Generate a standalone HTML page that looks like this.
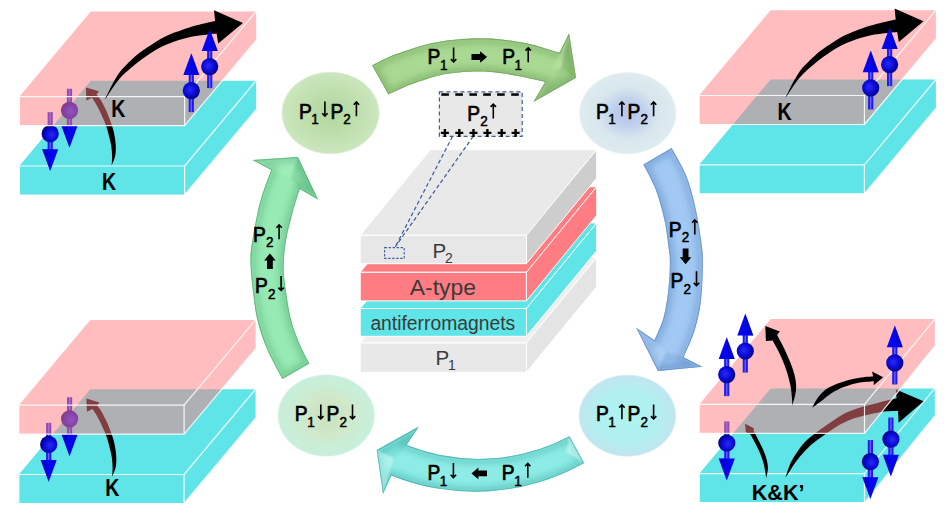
<!DOCTYPE html>
<html><head><meta charset="utf-8"><title>Diagram</title>
<style>html,body{margin:0;padding:0;background:#fff;}svg{display:block;}text{font-family:"Liberation Sans",sans-serif;}</style></head>
<body>
<svg width="944" height="521" viewBox="0 0 944 521"><defs>
<radialGradient id="ball" cx="0.42" cy="0.45" r="0.62"><stop offset="0" stop-color="#2a2af5"/><stop offset="0.55" stop-color="#0a0ad8"/><stop offset="1" stop-color="#00006e"/></radialGradient>
<g id="spinU"><rect x="-2.6" y="-17" width="5.2" height="38.5" fill="#1c1cf0"/><rect x="-0.7" y="-17" width="1.4" height="38.5" fill="#6a5ff4"/><polygon points="0,-37.4 8,-15.6 -8,-15.6" fill="#0505ee"/><polygon points="0,-37.4 8,-15.6 2.5,-15.6" fill="#0000b8" fill-opacity="0.45"/><circle r="8.6" fill="url(#ball)"/></g>
<g id="spinD"><use href="#spinU" transform="rotate(180)"/></g>
<radialGradient id="bTL" cx="0.5" cy="0.5" r="0.5"><stop offset="0" stop-color="#b2d69d" stop-opacity="1"/><stop offset="0.5" stop-color="#bedeac" stop-opacity="1"/><stop offset="0.96" stop-color="#cbe6bd" stop-opacity="1"/><stop offset="1" stop-color="#cbe6bd" stop-opacity="0"/></radialGradient>
<radialGradient id="bTR" cx="0.5" cy="0.5" r="0.5"><stop offset="0" stop-color="#b7c6ec" stop-opacity="1"/><stop offset="0.3" stop-color="#c0cfec" stop-opacity="1"/><stop offset="0.62" stop-color="#d8e6ee" stop-opacity="1"/><stop offset="0.96" stop-color="#deecf0" stop-opacity="1"/><stop offset="1" stop-color="#deecf0" stop-opacity="0"/></radialGradient>
<radialGradient id="bBR" cx="0.5" cy="0.5" r="0.5"><stop offset="0" stop-color="#aef3f0" stop-opacity="1"/><stop offset="0.6" stop-color="#b1f0f0" stop-opacity="1"/><stop offset="0.96" stop-color="#c0e6f0" stop-opacity="1"/><stop offset="1" stop-color="#c0e6f0" stop-opacity="0"/></radialGradient>
<radialGradient id="bBL" cx="0.5" cy="0.5" r="0.5"><stop offset="0" stop-color="#cae0bc" stop-opacity="1"/><stop offset="0.45" stop-color="#d0e8c9" stop-opacity="1"/><stop offset="0.8" stop-color="#c9eed8" stop-opacity="1"/><stop offset="0.96" stop-color="#c8efdc" stop-opacity="1"/><stop offset="1" stop-color="#c8efdc" stop-opacity="0"/></radialGradient>
<filter id="blur2" x="-20%" y="-20%" width="140%" height="140%"><feGaussianBlur stdDeviation="2.2"/></filter>
<filter id="blur3" x="-20%" y="-20%" width="140%" height="140%"><feGaussianBlur stdDeviation="0.9"/></filter>
<filter id="blur4" x="-20%" y="-20%" width="140%" height="140%"><feGaussianBlur stdDeviation="3.2"/></filter>
<filter id="blur1" x="-20%" y="-20%" width="140%" height="140%"><feGaussianBlur stdDeviation="0.45"/></filter>
</defs>
<polygon points="19.3,166 90.8,80.7 256.1,80.7 256.1,109.7 184.6,195 19.3,195" fill="#5fe4e8"/>
<g fill="none" stroke="#fff" stroke-width="1.2" stroke-opacity="0.9"><polygon points="19.3,166 184.6,166 184.6,195 19.3,195"/><polyline points="184.6,166 256.1,80.7"/><polyline points="184.6,195 256.1,109.7"/></g>
<path d="M111.6,165.6 C112.2,164.1 114.4,159.5 115.1,156.3 C115.8,153.1 115.9,149.6 115.8,146.2 C115.7,142.8 115.2,139.4 114.6,136 C114,132.6 113.4,129.8 112.1,125.9 C110.8,122 108.8,116.6 107,112.4 C105.2,108.2 102.8,103.6 101.1,100.6 C99.4,97.6 97.3,95.4 96.6,94.4 L98.9,91.3 L85.9,87.4 L86.4,100.6 L92,97.8 C92.7,98.8 94.5,101.3 96,104 C97.5,106.7 99.4,110.3 101.1,114 C102.8,117.7 104.9,122.2 106.2,125.9 C107.5,129.6 108.2,132.6 109,136 C109.8,139.4 110.8,142.8 111.3,146.2 C111.8,149.6 112,153.1 112.1,156.3 C112.1,159.5 111.7,164.1 111.6,165.6 Z" fill="#000"/>
<use href="#spinD" x="50.2" y="133.7"/>
<use href="#spinD" x="69.5" y="110.3"/>
<polygon points="19.3,96.7 90.8,11.4 256.1,11.4 256.1,40.4 184.6,125.7 19.3,125.7" fill="#ff7c80" fill-opacity="0.5"/>
<g fill="none" stroke="#fff" stroke-width="1.2" stroke-opacity="0.88"><polygon points="19.3,96.7 184.6,96.7 184.6,125.7 19.3,125.7"/><polyline points="184.6,96.7 256.1,11.4"/><polyline points="184.6,125.7 256.1,40.4"/></g>
<path d="M104.6,99.9 C105.2,98.6 107,95.1 108.4,92.3 C109.8,89.5 111.2,86.4 112.9,83.3 C114.6,80.2 116.9,76.3 118.7,73.6 C120.5,70.9 121.3,70 124,67.2 C126.7,64.4 131.7,59.5 135,56.6 C138.3,53.7 141.1,51.7 143.8,49.8 C146.5,47.9 148.4,46.7 151,45 C153.6,43.3 156.7,41.3 159.2,39.8 C161.7,38.3 163.4,37.4 166,36.2 C168.6,35 170.6,34.1 174.5,32.6 C178.4,31.1 183.7,29.1 189.3,27.4 C194.9,25.7 203.7,23.7 208,22.6 C212.3,21.6 213.9,21.4 215.1,21.1 L214,10.3 L242.9,22.9 L218.2,43.6 L216.6,33.6 C215.2,33.8 212.6,33.9 208,34.5 C203.4,35.1 194.9,36 189.3,37.2 C183.7,38.4 179.5,39.7 174.5,41.5 C169.5,43.3 163.6,45.8 159.2,48 C154.8,50.2 151.4,52.7 148,54.9 C144.6,57.1 141.6,59.3 138.9,61.4 C136.2,63.5 133.8,65.5 131.6,67.4 C129.4,69.3 127.8,70.5 125.6,72.6 C123.4,74.7 121,77 118.7,79.8 C116.4,82.6 113.7,86.5 111.8,89.2 C109.9,91.9 108.6,94.2 107.4,96 C106.2,97.8 105.1,99.2 104.6,99.9 Z" fill="#000"/>
<use href="#spinU" x="209.7" y="66.6"/>
<use href="#spinU" x="191.3" y="90.6"/>
<text transform="translate(111.2,117) scale(0.85,1)" font-family="Liberation Sans, sans-serif" font-weight="bold" font-size="23.0" fill="#000">K</text>
<text transform="translate(102.1,189.7) scale(0.85,1)" font-family="Liberation Sans, sans-serif" font-weight="bold" font-size="23.0" fill="#000">K</text>
<polygon points="18.8,474.5 90.3,389.2 255.6,389.2 255.6,418.2 184.1,503.5 18.8,503.5" fill="#5fe4e8"/>
<g fill="none" stroke="#fff" stroke-width="1.2" stroke-opacity="0.9"><polygon points="18.8,474.5 184.1,474.5 184.1,503.5 18.8,503.5"/><polyline points="184.1,474.5 255.6,389.2"/><polyline points="184.1,503.5 255.6,418.2"/></g>
<path d="M112.1,476.7 C112.7,475.2 114.9,470.6 115.6,467.4 C116.3,464.2 116.4,460.7 116.3,457.3 C116.2,453.9 115.7,450.5 115.1,447.1 C114.5,443.7 113.9,440.9 112.6,437 C111.3,433.1 109.3,427.7 107.5,423.5 C105.7,419.3 103.3,414.7 101.6,411.7 C99.9,408.7 97.8,406.5 97.1,405.5 L99.4,402.4 L86.4,398.5 L86.9,411.7 L92.5,408.9 C93.2,409.9 95,412.4 96.5,415.1 C98,417.8 99.9,421.5 101.6,425.1 C103.3,428.8 105.4,433.3 106.7,437 C108,440.7 108.7,443.7 109.5,447.1 C110.3,450.5 111.3,453.9 111.8,457.3 C112.3,460.7 112.5,464.2 112.6,467.4 C112.6,470.6 112.2,475.2 112.1,476.7 Z" fill="#000"/>
<use href="#spinD" x="48.7" y="444.4"/>
<use href="#spinD" x="69.6" y="418.8"/>
<polygon points="18.8,405.2 90.3,319.9 255.6,319.9 255.6,348.9 184.1,434.2 18.8,434.2" fill="#ff7c80" fill-opacity="0.5"/>
<g fill="none" stroke="#fff" stroke-width="1.2" stroke-opacity="0.88"><polygon points="18.8,405.2 184.1,405.2 184.1,434.2 18.8,434.2"/><polyline points="184.1,405.2 255.6,319.9"/><polyline points="184.1,434.2 255.6,348.9"/></g>
<text transform="translate(105.2,496.2) scale(0.85,1)" font-family="Liberation Sans, sans-serif" font-weight="bold" font-size="23.0" fill="#000">K</text>
<polygon points="699.1,164.8 770.6,79.5 935.9,79.5 935.9,108.5 864.4,193.8 699.1,193.8" fill="#5fe4e8"/>
<g fill="none" stroke="#fff" stroke-width="1.2" stroke-opacity="0.9"><polygon points="699.1,164.8 864.4,164.8 864.4,193.8 699.1,193.8"/><polyline points="864.4,164.8 935.9,79.5"/><polyline points="864.4,193.8 935.9,108.5"/></g>
<polygon points="699.1,95.5 770.6,10.2 935.9,10.2 935.9,39.2 864.4,124.5 699.1,124.5" fill="#ff7c80" fill-opacity="0.5"/>
<g fill="none" stroke="#fff" stroke-width="1.2" stroke-opacity="0.88"><polygon points="699.1,95.5 864.4,95.5 864.4,124.5 699.1,124.5"/><polyline points="864.4,95.5 935.9,10.2"/><polyline points="864.4,124.5 935.9,39.2"/></g>
<path d="M785.2,98.2 C785.8,96.9 787.6,93.4 789,90.6 C790.4,87.8 791.8,84.7 793.5,81.6 C795.2,78.5 797.5,74.6 799.3,71.9 C801.2,69.2 801.9,68.3 804.6,65.5 C807.3,62.7 812.3,57.8 815.6,54.9 C818.9,52 821.7,50 824.4,48.1 C827.1,46.2 829,45 831.6,43.3 C834.2,41.6 837.3,39.6 839.8,38.1 C842.3,36.6 844,35.7 846.6,34.5 C849.2,33.3 851.2,32.4 855.1,30.9 C859,29.4 864.3,27.4 869.9,25.7 C875.5,24 884.3,22 888.6,20.9 C892.9,19.9 894.5,19.7 895.7,19.4 L894.6,8.6 L923.5,21.2 L898.8,41.9 L897.2,31.9 C895.8,32.1 893.1,32.2 888.6,32.8 C884.1,33.4 875.5,34.3 869.9,35.5 C864.3,36.7 860.1,38 855.1,39.8 C850.1,41.6 844.2,44.1 839.8,46.3 C835.4,48.5 832,51 828.6,53.2 C825.2,55.4 822.2,57.6 819.5,59.7 C816.8,61.8 814.4,63.8 812.2,65.7 C810,67.6 808.4,68.8 806.2,70.9 C804.1,73 801.6,75.3 799.3,78.1 C797,80.9 794.3,84.8 792.4,87.5 C790.5,90.2 789.2,92.5 788,94.3 C786.8,96.1 785.7,97.5 785.2,98.2 Z" fill="#000"/>
<use href="#spinU" x="889.6" y="64.6"/>
<use href="#spinU" x="870.7" y="87.9"/>
<text transform="translate(777.4,119.5) scale(0.85,1)" font-family="Liberation Sans, sans-serif" font-weight="bold" font-size="23.0" fill="#000">K</text>
<polygon points="699.2,473.7 770.7,388.4 934.8,388.4 934.8,415.9 864.5,502.7 699.2,502.7" fill="#5fe4e8"/>
<g fill="none" stroke="#fff" stroke-width="1.2" stroke-opacity="0.9"><polygon points="699.2,473.7 864.5,473.7 864.5,502.7 699.2,502.7"/><polyline points="864.5,473.7 934.8,388.4"/><polyline points="864.5,502.7 934.8,415.9"/></g>
<path d="M766.2,478.2 C766.5,476.6 767.8,471.9 767.9,468.8 C768,465.7 767.5,462.8 766.6,459.4 C765.7,456 764.2,452.2 762.6,448.6 C761,445 758.7,440.7 757.2,437.8 C755.7,434.9 754.4,432.2 753.8,431.1 L753.8,428.2 L745.1,423.7 L745.8,432.2 L750.5,434.5 C751,435.5 752.3,437.7 753.8,440.5 C755.2,443.3 757.6,447.7 759.2,451.3 C760.8,454.9 762.2,458.6 763.2,462 C764.2,465.4 764.7,468.8 765.2,471.5 C765.7,474.2 766,477.1 766.2,478.2 Z" fill="#000"/>
<path d="M785.4,477.7 C786.3,475.2 788.8,466.9 790.8,462.6 C792.8,458.3 794.9,455.3 797.2,451.9 C799.5,448.5 801.8,445.2 804.7,442.2 C807.6,439.2 810.6,437 814.4,434.1 C818.2,431.2 822.8,427.8 827.3,424.6 C831.8,421.5 837.3,417.6 841.5,415.2 C845.7,412.8 848.6,411.7 852.3,410.3 C856,408.9 859.6,407.8 863.5,406.6 C867.4,405.5 871.7,404.5 875.9,403.4 C880.1,402.3 885.4,401 888.8,400.1 C892.2,399.2 895.2,398.5 896.5,398.2 L896,389.5 L923.6,401.3 L898.6,422.8 L898,411 C895.8,411.1 888.2,411.1 884.5,411.4 C880.8,411.7 879.4,412.3 875.9,413 C872.4,413.7 867.4,414.7 863.5,415.7 C859.6,416.7 856,417.5 852.3,418.9 C848.6,420.2 845.3,421.7 841.5,423.8 C837.7,425.9 834.2,428.2 829.7,431.3 C825.2,434.4 818.6,438.9 814.4,442.2 C810.2,445.5 807.8,448.1 804.7,451.3 C801.7,454.5 798.6,458.3 796.1,461.6 C793.6,464.9 791.5,468.5 789.7,471.2 C787.9,473.9 786.1,476.6 785.4,477.7 Z" fill="#000"/>
<use href="#spinD" x="726.8" y="443"/>
<use href="#spinD" x="870.4" y="461.6"/>
<use href="#spinD" x="890.9" y="439.1"/>
<polygon points="699.2,404.4 770.7,319.1 934.8,319.1 934.8,346.1 864.5,433.4 699.2,433.4" fill="#ff7c80" fill-opacity="0.5"/>
<g fill="none" stroke="#fff" stroke-width="1.2" stroke-opacity="0.88"><polygon points="699.2,404.4 864.5,404.4 864.5,433.4 699.2,433.4"/><polyline points="864.5,404.4 934.8,319.1"/><polyline points="864.5,433.4 934.8,346.1"/></g>
<path d="M792.4,405.5 C793,402.9 795.5,394.8 796,390.2 C796.5,385.6 796,382.1 795.1,377.6 C794.2,373.1 792.4,367.9 790.6,363.1 C788.8,358.3 786.5,353.4 784.3,348.7 C782,344 778.3,337.4 777.1,335.1 L779.8,331.5 L765.3,326.1 L765.9,341.1 L772.6,340.6 C774,343.2 778.3,350.6 780.7,355.9 C783.1,361.2 785.4,367.1 787,372.2 C788.6,377.3 789.8,382.4 790.6,386.6 C791.4,390.8 791.6,394.2 791.9,397.4 C792.2,400.5 792.3,404.1 792.4,405.5 Z" fill="#000"/>
<path d="M812.1,407.8 C813.1,406 815.6,400.3 818.4,396.9 C821.2,393.5 824.2,390.3 828.8,387.6 C833.4,384.9 840.3,382.4 846.1,380.7 C851.9,379 858.9,378 863.4,377.3 C867.9,376.6 871.6,376.7 873.2,376.6 L872,371.5 L883.2,377.3 L873.7,385.3 L873.7,381.3 C871,381.6 862.6,382 857.6,383 C852.6,384 848.2,385.4 843.8,387.1 C839.4,388.8 835,391 831.1,393.4 C827.2,395.8 823.9,399.1 820.7,401.5 C817.5,403.9 813.5,406.8 812.1,407.8 Z" fill="#000"/>
<use href="#spinU" x="745.3" y="351"/>
<use href="#spinU" x="726.7" y="374.6"/>
<use href="#spinU" x="894.8" y="362.9"/>
<text transform="translate(751.8,500.2) scale(0.98,1)" font-family="Liberation Sans, sans-serif" font-weight="bold" font-size="22.0" fill="#000">K&amp;K’</text>
<polygon points="360.2,343 526.4,343 596.7,257.4 430.5,257.4" fill="#efefef" stroke="#fff" stroke-width="1.0" stroke-linejoin="round"/>
<polygon points="526.4,343 596.7,257.4 596.7,286.7 526.4,372.3" fill="#e4e4e4" stroke="#fff" stroke-width="1.0" stroke-linejoin="round"/>
<polygon points="360.2,343 526.4,343 526.4,372.3 360.2,372.3" fill="#e8e8e8" stroke="#fff" stroke-width="1.0" stroke-linejoin="round"/>
<polygon points="360.2,308.5 526.4,308.5 596.7,222.9 430.5,222.9" fill="#5fe4e8" stroke="#fff" stroke-width="1.0" stroke-linejoin="round"/>
<polygon points="526.4,308.5 596.7,222.9 596.7,250.7 526.4,336.3" fill="#5fe4e8" stroke="#fff" stroke-width="1.0" stroke-linejoin="round"/>
<polygon points="360.2,308.5 526.4,308.5 526.4,336.3 360.2,336.3" fill="#5fe4e8" stroke="#fff" stroke-width="1.0" stroke-linejoin="round"/>
<polygon points="360.2,272.3 526.4,272.3 596.7,186.7 430.5,186.7" fill="#ff7d82" stroke="#fff" stroke-width="1.0" stroke-linejoin="round"/>
<polygon points="526.4,272.3 596.7,186.7 596.7,215.3 526.4,300.9" fill="#ff7d82" stroke="#fff" stroke-width="1.0" stroke-linejoin="round"/>
<polygon points="360.2,272.3 526.4,272.3 526.4,300.9 360.2,300.9" fill="#ff7d82" stroke="#fff" stroke-width="1.0" stroke-linejoin="round"/>
<polygon points="360.2,235.3 526.4,235.3 596.7,149.7 430.5,149.7" fill="#e9e9e9" stroke="#fff" stroke-width="1.0" stroke-linejoin="round"/>
<polygon points="526.4,235.3 596.7,149.7 596.7,178.1 526.4,263.7" fill="#cdcdcd" stroke="#fff" stroke-width="1.0" stroke-linejoin="round"/>
<polygon points="360.2,235.3 526.4,235.3 526.4,263.7 360.2,263.7" fill="#e7e7e7" stroke="#fff" stroke-width="1.0" stroke-linejoin="round"/>
<text x="432.4" y="258.2" font-family="Liberation Sans, sans-serif" font-size="20.5" fill="#3a3a3a" text-anchor="start">P</text>
<text x="445" y="263.2" font-family="Liberation Sans, sans-serif" font-size="14" fill="#3a3a3a" text-anchor="start">2</text>
<text x="409.8" y="294.7" font-family="Liberation Sans, sans-serif" font-size="21.5" fill="#3a3a3a" text-anchor="start" textLength="66.2" lengthAdjust="spacingAndGlyphs">A-type</text>
<text x="370.4" y="330.2" font-family="Liberation Sans, sans-serif" font-size="19.5" fill="#3a3a3a" text-anchor="start" textLength="144.8" lengthAdjust="spacingAndGlyphs">antiferromagnets</text>
<text x="435.6" y="364.9" font-family="Liberation Sans, sans-serif" font-size="20.5" fill="#3a3a3a" text-anchor="start">P</text>
<text x="448" y="369.9" font-family="Liberation Sans, sans-serif" font-size="14" fill="#3a3a3a" text-anchor="start">1</text>
<rect x="384.6" y="247.6" width="19.6" height="10.8" fill="none" stroke="#3f5f9e" stroke-width="1.1" stroke-dasharray="2.4 1.6"/>
<path d="M452.5,136.4 L395.3,246.8 M473.2,136.4 L395.3,246.8" fill="none" stroke="#3f5f9e" stroke-width="1.25" stroke-dasharray="4 2.6"/>
<rect x="439.4" y="91.8" width="82.8" height="44.6" fill="#e8e8e8" stroke="#3f5f9e" stroke-width="1.2" stroke-dasharray="4 3"/>
<rect x="441.3" y="93.3" width="7.6" height="2.5" fill="#000"/>
<rect x="455.3" y="93.3" width="7.6" height="2.5" fill="#000"/>
<rect x="469.4" y="93.3" width="7.6" height="2.5" fill="#000"/>
<rect x="483.2" y="93.3" width="7.6" height="2.5" fill="#000"/>
<rect x="497.1" y="93.3" width="7.6" height="2.5" fill="#000"/>
<rect x="511.2" y="93.3" width="7.6" height="2.5" fill="#000"/>
<path d="M440.9,132.9 h8 M444.9,128.9 v8" stroke="#000" stroke-width="2.4" fill="none"/>
<path d="M455.3,132.9 h8 M459.3,128.9 v8" stroke="#000" stroke-width="2.4" fill="none"/>
<path d="M469.5,132.9 h8 M473.5,128.9 v8" stroke="#000" stroke-width="2.4" fill="none"/>
<path d="M483.4,132.9 h8 M487.4,128.9 v8" stroke="#000" stroke-width="2.4" fill="none"/>
<path d="M497.7,132.9 h8 M501.7,128.9 v8" stroke="#000" stroke-width="2.4" fill="none"/>
<path d="M511.6,132.9 h8 M515.6,128.9 v8" stroke="#000" stroke-width="2.4" fill="none"/>
<!-- ring arrows -->
<clipPath id="cpT"><path d="M372.1,65.3 C374.9,63.9 383.6,59.3 389,57 C394.4,54.7 398.6,53.3 404.4,51.3 C410.2,49.3 418.2,46.5 424,44.9 C429.8,43.3 434.2,42.6 439.3,41.7 C444.4,40.8 449.6,40.2 454.7,39.7 C459.8,39.2 465.1,38.8 470,38.6 C474.9,38.4 479.1,38.2 484,38.3 C488.9,38.4 494.2,38.8 499.3,39.3 C504.4,39.8 509.6,40.5 514.7,41.3 C519.8,42.1 524.9,42.9 530,44.1 C535.1,45.3 540.4,47 545.3,48.4 C550.2,49.8 557.1,52.1 559.5,52.8 L569.1,33.2 L576,77.8 L533.4,102 L545.1,82 C543.6,81.6 540.1,80.7 536,79.8 C531.9,78.9 525.8,77.6 520.7,76.6 C515.6,75.6 510.4,74.6 505.3,73.8 C500.2,73 494.6,72.4 490,72 C485.4,71.6 481.9,71.5 478,71.5 C474.1,71.5 471.1,71.5 466.7,71.8 C462.2,72.1 455.8,72.7 451.3,73.3 C446.9,73.9 444.2,74.3 440,75.3 C435.8,76.3 430.9,77.7 426,79.2 C421.1,80.8 417,82 410.7,84.6 C404.4,87.1 392.1,92.8 388.4,94.5 Z"/></clipPath>
<g filter="url(#blur1)">
<path d="M372.1,65.3 C374.9,63.9 383.6,59.3 389,57 C394.4,54.7 398.6,53.3 404.4,51.3 C410.2,49.3 418.2,46.5 424,44.9 C429.8,43.3 434.2,42.6 439.3,41.7 C444.4,40.8 449.6,40.2 454.7,39.7 C459.8,39.2 465.1,38.8 470,38.6 C474.9,38.4 479.1,38.2 484,38.3 C488.9,38.4 494.2,38.8 499.3,39.3 C504.4,39.8 509.6,40.5 514.7,41.3 C519.8,42.1 524.9,42.9 530,44.1 C535.1,45.3 540.4,47 545.3,48.4 C550.2,49.8 557.1,52.1 559.5,52.8 L569.1,33.2 L576,77.8 L533.4,102 L545.1,82 C543.6,81.6 540.1,80.7 536,79.8 C531.9,78.9 525.8,77.6 520.7,76.6 C515.6,75.6 510.4,74.6 505.3,73.8 C500.2,73 494.6,72.4 490,72 C485.4,71.6 481.9,71.5 478,71.5 C474.1,71.5 471.1,71.5 466.7,71.8 C462.2,72.1 455.8,72.7 451.3,73.3 C446.9,73.9 444.2,74.3 440,75.3 C435.8,76.3 430.9,77.7 426,79.2 C421.1,80.8 417,82 410.7,84.6 C404.4,87.1 392.1,92.8 388.4,94.5 Z" fill="#a9d993"/>
<g clip-path="url(#cpT)">
<path d="M372.1,65.3 C374.9,63.9 383.6,59.3 389,57 C394.4,54.7 398.6,53.3 404.4,51.3 C410.2,49.3 418.2,46.5 424,44.9 C429.8,43.3 434.2,42.6 439.3,41.7 C444.4,40.8 449.6,40.2 454.7,39.7 C459.8,39.2 465.1,38.8 470,38.6 C474.9,38.4 479.1,38.2 484,38.3 C488.9,38.4 494.2,38.8 499.3,39.3 C504.4,39.8 509.6,40.5 514.7,41.3 C519.8,42.1 524.9,42.9 530,44.1 C535.1,45.3 540.4,47 545.3,48.4 C550.2,49.8 557.1,52.1 559.5,52.8 L569.1,33.2 L576,77.8 L533.4,102 L545.1,82 C543.6,81.6 540.1,80.7 536,79.8 C531.9,78.9 525.8,77.6 520.7,76.6 C515.6,75.6 510.4,74.6 505.3,73.8 C500.2,73 494.6,72.4 490,72 C485.4,71.6 481.9,71.5 478,71.5 C474.1,71.5 471.1,71.5 466.7,71.8 C462.2,72.1 455.8,72.7 451.3,73.3 C446.9,73.9 444.2,74.3 440,75.3 C435.8,76.3 430.9,77.7 426,79.2 C421.1,80.8 417,82 410.7,84.6 C404.4,87.1 392.1,92.8 388.4,94.5 Z" fill="none" stroke="#5a8e42" stroke-width="11" stroke-opacity="0.34" filter="url(#blur4)"/>
<polygon points="569.1,33.2 576,77.8 561,68" fill="#3f7a2a" fill-opacity="0.22" filter="url(#blur3)"/>
<polygon points="576,77.8 533.4,102 545,92 561,68" fill="#3f7a2a" fill-opacity="0.1" filter="url(#blur3)"/>
<polygon points="569.1,33.2 559.5,52.8 553,68 561,68" fill="#dff5d0" fill-opacity="0.25" filter="url(#blur3)"/>
<path d="M372.1,65.3 C374.9,63.9 383.6,59.3 389,57 C394.4,54.7 398.6,53.3 404.4,51.3 C410.2,49.3 418.2,46.5 424,44.9 C429.8,43.3 434.2,42.6 439.3,41.7 C444.4,40.8 449.6,40.2 454.7,39.7 C459.8,39.2 465.1,38.8 470,38.6 C474.9,38.4 479.1,38.2 484,38.3 C488.9,38.4 494.2,38.8 499.3,39.3 C504.4,39.8 509.6,40.5 514.7,41.3 C519.8,42.1 524.9,42.9 530,44.1 C535.1,45.3 540.4,47 545.3,48.4 C550.2,49.8 557.1,52.1 559.5,52.8 L569.1,33.2 L576,77.8 L533.4,102 L545.1,82 C543.6,81.6 540.1,80.7 536,79.8 C531.9,78.9 525.8,77.6 520.7,76.6 C515.6,75.6 510.4,74.6 505.3,73.8 C500.2,73 494.6,72.4 490,72 C485.4,71.6 481.9,71.5 478,71.5 C474.1,71.5 471.1,71.5 466.7,71.8 C462.2,72.1 455.8,72.7 451.3,73.3 C446.9,73.9 444.2,74.3 440,75.3 C435.8,76.3 430.9,77.7 426,79.2 C421.1,80.8 417,82 410.7,84.6 C404.4,87.1 392.1,92.8 388.4,94.5 Z" fill="none" stroke="#a9d993" stroke-width="2.2" stroke-opacity="0.45" filter="url(#blur3)" transform="translate(0,1.6)"/>
<path d="M372.1,65.3 C374.9,63.9 383.6,59.3 389,57 C394.4,54.7 398.6,53.3 404.4,51.3 C410.2,49.3 418.2,46.5 424,44.9 C429.8,43.3 434.2,42.6 439.3,41.7 C444.4,40.8 449.6,40.2 454.7,39.7 C459.8,39.2 465.1,38.8 470,38.6 C474.9,38.4 479.1,38.2 484,38.3 C488.9,38.4 494.2,38.8 499.3,39.3 C504.4,39.8 509.6,40.5 514.7,41.3 C519.8,42.1 524.9,42.9 530,44.1 C535.1,45.3 540.4,47 545.3,48.4 C550.2,49.8 557.1,52.1 559.5,52.8 L569.1,33.2 L576,77.8 L533.4,102 L545.1,82 C543.6,81.6 540.1,80.7 536,79.8 C531.9,78.9 525.8,77.6 520.7,76.6 C515.6,75.6 510.4,74.6 505.3,73.8 C500.2,73 494.6,72.4 490,72 C485.4,71.6 481.9,71.5 478,71.5 C474.1,71.5 471.1,71.5 466.7,71.8 C462.2,72.1 455.8,72.7 451.3,73.3 C446.9,73.9 444.2,74.3 440,75.3 C435.8,76.3 430.9,77.7 426,79.2 C421.1,80.8 417,82 410.7,84.6 C404.4,87.1 392.1,92.8 388.4,94.5 Z" fill="none" stroke="#5a8e42" stroke-width="1.8" stroke-opacity="0.5"/>
</g></g>
<clipPath id="cpL"><path d="M282.4,379 C279.9,374.1 271.6,359.7 267.4,349.8 C263.2,339.9 259.9,330.3 257.4,319.9 C254.9,309.5 253.7,297.4 252.5,287.4 C251.3,277.4 250.5,267.9 250.5,260 C250.5,252.1 250.9,249.4 252.5,239.8 C254.1,230.2 256.9,214 260,202.4 C263.1,190.8 269.3,175.4 271.2,170 L252.5,160 L297.9,157 L318,199.5 L299.7,189 C298.5,192.9 294.9,203.9 292.6,212.4 C290.3,220.9 287.6,231 286.1,239.8 C284.6,248.6 283.7,257.1 283.6,265 C283.5,272.9 284.1,278.2 285.4,287.4 C286.6,296.5 288.7,310.3 291.1,319.9 C293.5,329.5 296.9,337.5 299.9,344.8 C302.9,352.1 307.7,360.4 309.3,363.5 Z"/></clipPath>
<g filter="url(#blur1)">
<path d="M282.4,379 C279.9,374.1 271.6,359.7 267.4,349.8 C263.2,339.9 259.9,330.3 257.4,319.9 C254.9,309.5 253.7,297.4 252.5,287.4 C251.3,277.4 250.5,267.9 250.5,260 C250.5,252.1 250.9,249.4 252.5,239.8 C254.1,230.2 256.9,214 260,202.4 C263.1,190.8 269.3,175.4 271.2,170 L252.5,160 L297.9,157 L318,199.5 L299.7,189 C298.5,192.9 294.9,203.9 292.6,212.4 C290.3,220.9 287.6,231 286.1,239.8 C284.6,248.6 283.7,257.1 283.6,265 C283.5,272.9 284.1,278.2 285.4,287.4 C286.6,296.5 288.7,310.3 291.1,319.9 C293.5,329.5 296.9,337.5 299.9,344.8 C302.9,352.1 307.7,360.4 309.3,363.5 Z" fill="#98eab4"/>
<g clip-path="url(#cpL)">
<path d="M282.4,379 C279.9,374.1 271.6,359.7 267.4,349.8 C263.2,339.9 259.9,330.3 257.4,319.9 C254.9,309.5 253.7,297.4 252.5,287.4 C251.3,277.4 250.5,267.9 250.5,260 C250.5,252.1 250.9,249.4 252.5,239.8 C254.1,230.2 256.9,214 260,202.4 C263.1,190.8 269.3,175.4 271.2,170 L252.5,160 L297.9,157 L318,199.5 L299.7,189 C298.5,192.9 294.9,203.9 292.6,212.4 C290.3,220.9 287.6,231 286.1,239.8 C284.6,248.6 283.7,257.1 283.6,265 C283.5,272.9 284.1,278.2 285.4,287.4 C286.6,296.5 288.7,310.3 291.1,319.9 C293.5,329.5 296.9,337.5 299.9,344.8 C302.9,352.1 307.7,360.4 309.3,363.5 Z" fill="none" stroke="#3a9c62" stroke-width="11" stroke-opacity="0.34" filter="url(#blur4)"/>
<polygon points="297.9,157 318,199.5 299.7,189 291,178" fill="#2c8c54" fill-opacity="0.16" filter="url(#blur3)"/>
<polygon points="252.5,160 297.9,157 291,178 271.2,170" fill="#e0fbe8" fill-opacity="0.12" filter="url(#blur3)"/>
<path d="M282.4,379 C279.9,374.1 271.6,359.7 267.4,349.8 C263.2,339.9 259.9,330.3 257.4,319.9 C254.9,309.5 253.7,297.4 252.5,287.4 C251.3,277.4 250.5,267.9 250.5,260 C250.5,252.1 250.9,249.4 252.5,239.8 C254.1,230.2 256.9,214 260,202.4 C263.1,190.8 269.3,175.4 271.2,170 L252.5,160 L297.9,157 L318,199.5 L299.7,189 C298.5,192.9 294.9,203.9 292.6,212.4 C290.3,220.9 287.6,231 286.1,239.8 C284.6,248.6 283.7,257.1 283.6,265 C283.5,272.9 284.1,278.2 285.4,287.4 C286.6,296.5 288.7,310.3 291.1,319.9 C293.5,329.5 296.9,337.5 299.9,344.8 C302.9,352.1 307.7,360.4 309.3,363.5 Z" fill="none" stroke="#98eab4" stroke-width="2.2" stroke-opacity="0.45" filter="url(#blur3)" transform="translate(1.6,0)"/>
<path d="M282.4,379 C279.9,374.1 271.6,359.7 267.4,349.8 C263.2,339.9 259.9,330.3 257.4,319.9 C254.9,309.5 253.7,297.4 252.5,287.4 C251.3,277.4 250.5,267.9 250.5,260 C250.5,252.1 250.9,249.4 252.5,239.8 C254.1,230.2 256.9,214 260,202.4 C263.1,190.8 269.3,175.4 271.2,170 L252.5,160 L297.9,157 L318,199.5 L299.7,189 C298.5,192.9 294.9,203.9 292.6,212.4 C290.3,220.9 287.6,231 286.1,239.8 C284.6,248.6 283.7,257.1 283.6,265 C283.5,272.9 284.1,278.2 285.4,287.4 C286.6,296.5 288.7,310.3 291.1,319.9 C293.5,329.5 296.9,337.5 299.9,344.8 C302.9,352.1 307.7,360.4 309.3,363.5 Z" fill="none" stroke="#3a9c62" stroke-width="1.8" stroke-opacity="0.5"/>
</g></g>
<clipPath id="cpR"><path d="M671.6,148.0 C674,152.5 682,165.4 685.9,174.9 C689.8,184.4 692.3,194.1 694.8,204.9 C697.3,215.7 699.7,230.3 701,239.8 C702.3,249.3 702.8,252 702.8,262 C702.8,272 702.3,288.6 701,299.9 C699.7,311.2 697.7,320.2 694.8,329.8 C691.9,339.4 685.5,352.7 683.6,357.3 L702.3,366.8 L657.9,371 L636.2,327.8 L654.4,340.3 C655.9,336.5 661.2,326.2 663.6,317.4 C666,308.6 667.6,296.6 668.6,287.4 C669.6,278.2 669.9,268.3 669.9,262 C669.9,255.7 669.8,256.8 668.9,249.8 C668,242.8 666.6,229.8 664.4,219.8 C662.2,209.8 659.4,199.1 655.9,189.9 C652.4,180.7 645.5,168.7 643.4,164.5 Z"/></clipPath>
<g filter="url(#blur1)">
<path d="M671.6,148.0 C674,152.5 682,165.4 685.9,174.9 C689.8,184.4 692.3,194.1 694.8,204.9 C697.3,215.7 699.7,230.3 701,239.8 C702.3,249.3 702.8,252 702.8,262 C702.8,272 702.3,288.6 701,299.9 C699.7,311.2 697.7,320.2 694.8,329.8 C691.9,339.4 685.5,352.7 683.6,357.3 L702.3,366.8 L657.9,371 L636.2,327.8 L654.4,340.3 C655.9,336.5 661.2,326.2 663.6,317.4 C666,308.6 667.6,296.6 668.6,287.4 C669.6,278.2 669.9,268.3 669.9,262 C669.9,255.7 669.8,256.8 668.9,249.8 C668,242.8 666.6,229.8 664.4,219.8 C662.2,209.8 659.4,199.1 655.9,189.9 C652.4,180.7 645.5,168.7 643.4,164.5 Z" fill="#a2c9f3"/>
<g clip-path="url(#cpR)">
<path d="M671.6,148.0 C674,152.5 682,165.4 685.9,174.9 C689.8,184.4 692.3,194.1 694.8,204.9 C697.3,215.7 699.7,230.3 701,239.8 C702.3,249.3 702.8,252 702.8,262 C702.8,272 702.3,288.6 701,299.9 C699.7,311.2 697.7,320.2 694.8,329.8 C691.9,339.4 685.5,352.7 683.6,357.3 L702.3,366.8 L657.9,371 L636.2,327.8 L654.4,340.3 C655.9,336.5 661.2,326.2 663.6,317.4 C666,308.6 667.6,296.6 668.6,287.4 C669.6,278.2 669.9,268.3 669.9,262 C669.9,255.7 669.8,256.8 668.9,249.8 C668,242.8 666.6,229.8 664.4,219.8 C662.2,209.8 659.4,199.1 655.9,189.9 C652.4,180.7 645.5,168.7 643.4,164.5 Z" fill="none" stroke="#4a78b8" stroke-width="11" stroke-opacity="0.34" filter="url(#blur4)"/>
<polygon points="657.9,371 636.2,327.8 654.4,340.3 666,352" fill="#e4f0ff" fill-opacity="0.16" filter="url(#blur3)"/>
<polygon points="702.3,366.8 657.9,371 666,352 683.6,357.3" fill="#3868a8" fill-opacity="0.14" filter="url(#blur3)"/>
<path d="M671.6,148.0 C674,152.5 682,165.4 685.9,174.9 C689.8,184.4 692.3,194.1 694.8,204.9 C697.3,215.7 699.7,230.3 701,239.8 C702.3,249.3 702.8,252 702.8,262 C702.8,272 702.3,288.6 701,299.9 C699.7,311.2 697.7,320.2 694.8,329.8 C691.9,339.4 685.5,352.7 683.6,357.3 L702.3,366.8 L657.9,371 L636.2,327.8 L654.4,340.3 C655.9,336.5 661.2,326.2 663.6,317.4 C666,308.6 667.6,296.6 668.6,287.4 C669.6,278.2 669.9,268.3 669.9,262 C669.9,255.7 669.8,256.8 668.9,249.8 C668,242.8 666.6,229.8 664.4,219.8 C662.2,209.8 659.4,199.1 655.9,189.9 C652.4,180.7 645.5,168.7 643.4,164.5 Z" fill="none" stroke="#a2c9f3" stroke-width="2.2" stroke-opacity="0.45" filter="url(#blur3)" transform="translate(-1.6,0)"/>
<path d="M671.6,148.0 C674,152.5 682,165.4 685.9,174.9 C689.8,184.4 692.3,194.1 694.8,204.9 C697.3,215.7 699.7,230.3 701,239.8 C702.3,249.3 702.8,252 702.8,262 C702.8,272 702.3,288.6 701,299.9 C699.7,311.2 697.7,320.2 694.8,329.8 C691.9,339.4 685.5,352.7 683.6,357.3 L702.3,366.8 L657.9,371 L636.2,327.8 L654.4,340.3 C655.9,336.5 661.2,326.2 663.6,317.4 C666,308.6 667.6,296.6 668.6,287.4 C669.6,278.2 669.9,268.3 669.9,262 C669.9,255.7 669.8,256.8 668.9,249.8 C668,242.8 666.6,229.8 664.4,219.8 C662.2,209.8 659.4,199.1 655.9,189.9 C652.4,180.7 645.5,168.7 643.4,164.5 Z" fill="none" stroke="#4a78b8" stroke-width="1.8" stroke-opacity="0.5"/>
</g></g>
<clipPath id="cpB"><path d="M584.1,463 A222.5,222.5 0 0 1 391.3,475.4 L383,494.1 L376.7,450 L418.9,426.6 L406.5,445.1 A194.8,194.8 0 0 0 569.5,436.3 Z"/></clipPath>
<g filter="url(#blur1)">
<path d="M584.1,463 A222.5,222.5 0 0 1 391.3,475.4 L383,494.1 L376.7,450 L418.9,426.6 L406.5,445.1 A194.8,194.8 0 0 0 569.5,436.3 Z" fill="#8eece6"/>
<g clip-path="url(#cpB)">
<path d="M584.1,463 A222.5,222.5 0 0 1 391.3,475.4 L383,494.1 L376.7,450 L418.9,426.6 L406.5,445.1 A194.8,194.8 0 0 0 569.5,436.3 Z" fill="none" stroke="#309a96" stroke-width="11" stroke-opacity="0.34" filter="url(#blur4)"/>
<polygon points="383,494.1 376.7,450 394,458" fill="#e0fffd" fill-opacity="0.4" filter="url(#blur3)"/>
<polygon points="376.7,450 418.9,426.6 406.5,445.1 394,458" fill="#1f8884" fill-opacity="0.12" filter="url(#blur3)"/>
<polygon points="569.5,436.3 584.1,463 566,452" fill="#e8fffe" fill-opacity="0.5" filter="url(#blur3)"/>
<path d="M584.1,463 A222.5,222.5 0 0 1 391.3,475.4 L383,494.1 L376.7,450 L418.9,426.6 L406.5,445.1 A194.8,194.8 0 0 0 569.5,436.3 Z" fill="none" stroke="#8eece6" stroke-width="2.2" stroke-opacity="0.45" filter="url(#blur3)" transform="translate(0,1.6)"/>
<path d="M584.1,463 A222.5,222.5 0 0 1 391.3,475.4 L383,494.1 L376.7,450 L418.9,426.6 L406.5,445.1 A194.8,194.8 0 0 0 569.5,436.3 Z" fill="none" stroke="#309a96" stroke-width="1.8" stroke-opacity="0.5"/>
</g></g>
<ellipse cx="330.5" cy="113" rx="49.6" ry="41.7" fill="url(#bTL)"/>
<ellipse cx="627.7" cy="113.2" rx="49.2" ry="41.6" fill="url(#bTR)"/>
<ellipse cx="627.4" cy="415.7" rx="49.4" ry="41.5" fill="url(#bBR)"/>
<ellipse cx="326.2" cy="415.5" rx="49.2" ry="41.6" fill="url(#bBL)"/>
<text transform="translate(298.9,118.5) scale(0.88,1)" font-family="Liberation Sans, sans-serif" font-weight="normal" font-size="21.8" fill="#000" stroke="#000" stroke-width="0.75" stroke-linejoin="round">P</text>
<text transform="translate(311.3,124.1) scale(0.95,1)" font-family="Liberation Sans, sans-serif" font-weight="normal" font-size="14.2" fill="#000" stroke="#000" stroke-width="0.5249999999999999" stroke-linejoin="round">1</text>
<path d="M324.9,101.6 V115.7 M322.2,113.2 L324.9,116 L327.6,113.2" fill="none" stroke="#000" stroke-width="1.6" stroke-linejoin="miter"/>
<text transform="translate(330.4,118.5) scale(0.88,1)" font-family="Liberation Sans, sans-serif" font-weight="normal" font-size="21.8" fill="#000" stroke="#000" stroke-width="0.75" stroke-linejoin="round">P</text>
<text transform="translate(343.3,124.1) scale(0.95,1)" font-family="Liberation Sans, sans-serif" font-weight="normal" font-size="14.2" fill="#000" stroke="#000" stroke-width="0.5249999999999999" stroke-linejoin="round">2</text>
<path d="M356.4,116.3 V102.2 M353.7,104.7 L356.4,101.9 L359.1,104.7" fill="none" stroke="#000" stroke-width="1.6" stroke-linejoin="miter"/>
<text transform="translate(595.9,118.5) scale(0.88,1)" font-family="Liberation Sans, sans-serif" font-weight="normal" font-size="21.8" fill="#000" stroke="#000" stroke-width="0.75" stroke-linejoin="round">P</text>
<text transform="translate(608.3,124.1) scale(0.95,1)" font-family="Liberation Sans, sans-serif" font-weight="normal" font-size="14.2" fill="#000" stroke="#000" stroke-width="0.5249999999999999" stroke-linejoin="round">1</text>
<path d="M621.9,116.3 V102.2 M619.2,104.7 L621.9,101.9 L624.6,104.7" fill="none" stroke="#000" stroke-width="1.6" stroke-linejoin="miter"/>
<text transform="translate(627.6,118.5) scale(0.88,1)" font-family="Liberation Sans, sans-serif" font-weight="normal" font-size="21.8" fill="#000" stroke="#000" stroke-width="0.75" stroke-linejoin="round">P</text>
<text transform="translate(640.5,124.1) scale(0.95,1)" font-family="Liberation Sans, sans-serif" font-weight="normal" font-size="14.2" fill="#000" stroke="#000" stroke-width="0.5249999999999999" stroke-linejoin="round">2</text>
<path d="M653.6,116.3 V102.2 M650.9,104.7 L653.6,101.9 L656.3,104.7" fill="none" stroke="#000" stroke-width="1.6" stroke-linejoin="miter"/>
<text transform="translate(595.9,421.4) scale(0.88,1)" font-family="Liberation Sans, sans-serif" font-weight="normal" font-size="21.8" fill="#000" stroke="#000" stroke-width="0.75" stroke-linejoin="round">P</text>
<text transform="translate(608.3,427) scale(0.95,1)" font-family="Liberation Sans, sans-serif" font-weight="normal" font-size="14.2" fill="#000" stroke="#000" stroke-width="0.5249999999999999" stroke-linejoin="round">1</text>
<path d="M621.9,419.2 V405.1 M619.2,407.6 L621.9,404.8 L624.6,407.6" fill="none" stroke="#000" stroke-width="1.6" stroke-linejoin="miter"/>
<text transform="translate(627.6,421.4) scale(0.88,1)" font-family="Liberation Sans, sans-serif" font-weight="normal" font-size="21.8" fill="#000" stroke="#000" stroke-width="0.75" stroke-linejoin="round">P</text>
<text transform="translate(640.5,427) scale(0.95,1)" font-family="Liberation Sans, sans-serif" font-weight="normal" font-size="14.2" fill="#000" stroke="#000" stroke-width="0.5249999999999999" stroke-linejoin="round">2</text>
<path d="M653.6,404.5 V418.6 M650.9,416.1 L653.6,418.9 L656.3,416.1" fill="none" stroke="#000" stroke-width="1.6" stroke-linejoin="miter"/>
<text transform="translate(294.8,421.4) scale(0.88,1)" font-family="Liberation Sans, sans-serif" font-weight="normal" font-size="21.8" fill="#000" stroke="#000" stroke-width="0.75" stroke-linejoin="round">P</text>
<text transform="translate(307.2,427) scale(0.95,1)" font-family="Liberation Sans, sans-serif" font-weight="normal" font-size="14.2" fill="#000" stroke="#000" stroke-width="0.5249999999999999" stroke-linejoin="round">1</text>
<path d="M320.8,404.5 V418.6 M318.1,416.1 L320.8,418.9 L323.5,416.1" fill="none" stroke="#000" stroke-width="1.6" stroke-linejoin="miter"/>
<text transform="translate(326.5,421.4) scale(0.88,1)" font-family="Liberation Sans, sans-serif" font-weight="normal" font-size="21.8" fill="#000" stroke="#000" stroke-width="0.75" stroke-linejoin="round">P</text>
<text transform="translate(339.4,427) scale(0.95,1)" font-family="Liberation Sans, sans-serif" font-weight="normal" font-size="14.2" fill="#000" stroke="#000" stroke-width="0.5249999999999999" stroke-linejoin="round">2</text>
<path d="M352.5,404.5 V418.6 M349.8,416.1 L352.5,418.9 L355.2,416.1" fill="none" stroke="#000" stroke-width="1.6" stroke-linejoin="miter"/>
<text transform="translate(467.3,120.7) scale(0.88,1)" font-family="Liberation Sans, sans-serif" font-weight="normal" font-size="21.8" fill="#000" stroke="#000" stroke-width="0.75" stroke-linejoin="round">P</text>
<text transform="translate(480.2,126.3) scale(0.95,1)" font-family="Liberation Sans, sans-serif" font-weight="normal" font-size="14.2" fill="#000" stroke="#000" stroke-width="0.5249999999999999" stroke-linejoin="round">2</text>
<path d="M493.3,118.5 V104.4 M490.6,106.9 L493.3,104.1 L496,106.9" fill="none" stroke="#000" stroke-width="1.6" stroke-linejoin="miter"/>
<text transform="translate(427.6,64.4) scale(0.88,1)" font-family="Liberation Sans, sans-serif" font-weight="normal" font-size="21.8" fill="#000" stroke="#000" stroke-width="0.75" stroke-linejoin="round">P</text>
<text transform="translate(440,70) scale(0.95,1)" font-family="Liberation Sans, sans-serif" font-weight="normal" font-size="14.2" fill="#000" stroke="#000" stroke-width="0.5249999999999999" stroke-linejoin="round">1</text>
<path d="M453.6,47.5 V61.6 M450.9,59.1 L453.6,61.9 L456.3,59.1" fill="none" stroke="#000" stroke-width="1.6" stroke-linejoin="miter"/>
<text transform="translate(502.2,64.4) scale(0.88,1)" font-family="Liberation Sans, sans-serif" font-weight="normal" font-size="21.8" fill="#000" stroke="#000" stroke-width="0.75" stroke-linejoin="round">P</text>
<text transform="translate(514.6,70) scale(0.95,1)" font-family="Liberation Sans, sans-serif" font-weight="normal" font-size="14.2" fill="#000" stroke="#000" stroke-width="0.5249999999999999" stroke-linejoin="round">1</text>
<path d="M528.2,62.2 V48.1 M525.5,50.6 L528.2,47.8 L530.9,50.6" fill="none" stroke="#000" stroke-width="1.6" stroke-linejoin="miter"/>
<text transform="translate(427.4,480) scale(0.88,1)" font-family="Liberation Sans, sans-serif" font-weight="normal" font-size="21.8" fill="#000" stroke="#000" stroke-width="0.75" stroke-linejoin="round">P</text>
<text transform="translate(439.8,485.6) scale(0.95,1)" font-family="Liberation Sans, sans-serif" font-weight="normal" font-size="14.2" fill="#000" stroke="#000" stroke-width="0.5249999999999999" stroke-linejoin="round">1</text>
<path d="M453.4,463.1 V477.2 M450.7,474.7 L453.4,477.5 L456.1,474.7" fill="none" stroke="#000" stroke-width="1.6" stroke-linejoin="miter"/>
<text transform="translate(501.8,480) scale(0.88,1)" font-family="Liberation Sans, sans-serif" font-weight="normal" font-size="21.8" fill="#000" stroke="#000" stroke-width="0.75" stroke-linejoin="round">P</text>
<text transform="translate(514.2,485.6) scale(0.95,1)" font-family="Liberation Sans, sans-serif" font-weight="normal" font-size="14.2" fill="#000" stroke="#000" stroke-width="0.5249999999999999" stroke-linejoin="round">1</text>
<path d="M527.8,477.8 V463.7 M525.1,466.2 L527.8,463.4 L530.5,466.2" fill="none" stroke="#000" stroke-width="1.6" stroke-linejoin="miter"/>
<text transform="translate(253.1,241.5) scale(0.88,1)" font-family="Liberation Sans, sans-serif" font-weight="normal" font-size="21.8" fill="#000" stroke="#000" stroke-width="0.75" stroke-linejoin="round">P</text>
<text transform="translate(266,247.1) scale(0.95,1)" font-family="Liberation Sans, sans-serif" font-weight="normal" font-size="14.2" fill="#000" stroke="#000" stroke-width="0.5249999999999999" stroke-linejoin="round">2</text>
<path d="M279.1,239.3 V225.2 M276.4,227.7 L279.1,224.9 L281.8,227.7" fill="none" stroke="#000" stroke-width="1.6" stroke-linejoin="miter"/>
<text transform="translate(255.1,292.9) scale(0.88,1)" font-family="Liberation Sans, sans-serif" font-weight="normal" font-size="21.8" fill="#000" stroke="#000" stroke-width="0.75" stroke-linejoin="round">P</text>
<text transform="translate(268,298.5) scale(0.95,1)" font-family="Liberation Sans, sans-serif" font-weight="normal" font-size="14.2" fill="#000" stroke="#000" stroke-width="0.5249999999999999" stroke-linejoin="round">2</text>
<path d="M281.1,276 V290.1 M278.4,287.6 L281.1,290.4 L283.8,287.6" fill="none" stroke="#000" stroke-width="1.6" stroke-linejoin="miter"/>
<text transform="translate(668.8,236.6) scale(0.88,1)" font-family="Liberation Sans, sans-serif" font-weight="normal" font-size="21.8" fill="#000" stroke="#000" stroke-width="0.75" stroke-linejoin="round">P</text>
<text transform="translate(681.7,242.2) scale(0.95,1)" font-family="Liberation Sans, sans-serif" font-weight="normal" font-size="14.2" fill="#000" stroke="#000" stroke-width="0.5249999999999999" stroke-linejoin="round">2</text>
<path d="M694.8,234.4 V220.3 M692.1,222.8 L694.8,220 L697.5,222.8" fill="none" stroke="#000" stroke-width="1.6" stroke-linejoin="miter"/>
<text transform="translate(670.5,288.2) scale(0.88,1)" font-family="Liberation Sans, sans-serif" font-weight="normal" font-size="21.8" fill="#000" stroke="#000" stroke-width="0.75" stroke-linejoin="round">P</text>
<text transform="translate(683.4,293.8) scale(0.95,1)" font-family="Liberation Sans, sans-serif" font-weight="normal" font-size="14.2" fill="#000" stroke="#000" stroke-width="0.5249999999999999" stroke-linejoin="round">2</text>
<path d="M696.5,271.3 V285.4 M693.8,282.9 L696.5,285.7 L699.2,282.9" fill="none" stroke="#000" stroke-width="1.6" stroke-linejoin="miter"/>
<polygon points="-7.8,-2.9 0.8,-2.9 0.8,-5.8 7.8,0 0.8,5.8 0.8,2.9 -7.8,2.9" fill="#000" transform="translate(479.3,57) rotate(0)"/>
<polygon points="-7.8,-2.9 0.8,-2.9 0.8,-5.8 7.8,0 0.8,5.8 0.8,2.9 -7.8,2.9" fill="#000" transform="translate(479.2,473.4) rotate(180)"/>
<polygon points="-7.8,-2.9 0.8,-2.9 0.8,-5.8 7.8,0 0.8,5.8 0.8,2.9 -7.8,2.9" fill="#000" transform="translate(269.9,261.2) rotate(-90)"/>
<polygon points="-7.8,-2.9 0.8,-2.9 0.8,-5.8 7.8,0 0.8,5.8 0.8,2.9 -7.8,2.9" fill="#000" transform="translate(685.6,256.4) rotate(90)"/></svg>
</body></html>
